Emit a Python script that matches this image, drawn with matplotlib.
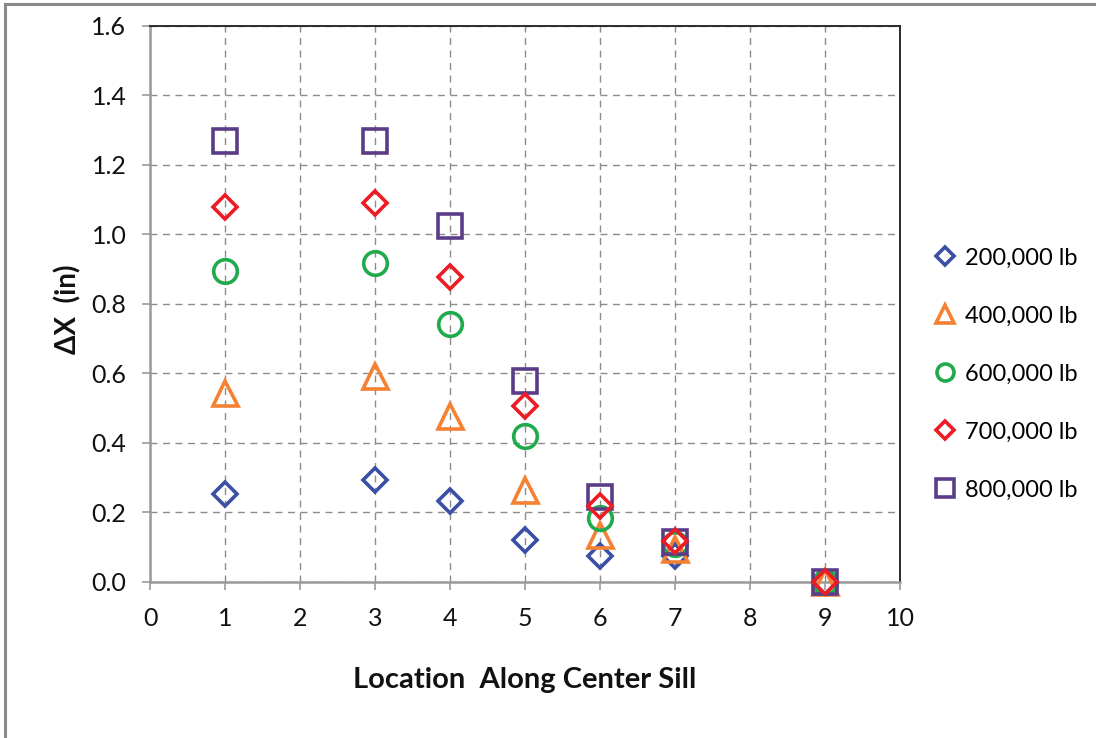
import matplotlib
matplotlib.use("Agg")
from matplotlib import pyplot as plt
from matplotlib.lines import Line2D

plt.rcParams['font.family'] = ['Lato', 'DejaVu Sans']

# Displacement along the center sill for each load case
locations = [1, 3, 4, 5, 6, 7, 9]
dx_200k = [0.253, 0.293, 0.233, 0.120, 0.075, 0.074, 0.0]
dx_400k = [0.543, 0.593, 0.478, 0.265, 0.135, 0.095, 0.0]
dx_600k = [0.895, 0.918, 0.742, 0.420, 0.184, 0.110, 0.0]
dx_700k = [1.079, 1.090, 0.879, 0.506, 0.220, 0.118, 0.0]
dx_800k = [1.268, 1.268, 1.024, 0.578, 0.246, 0.114, 0.0]

labels = ['200,000 lb', '400,000 lb', '600,000 lb', '700,000 lb', '800,000 lb']
series = [dx_200k, dx_400k, dx_600k, dx_700k, dx_800k]
markers = ['D', '^', 'o', 'D', 's']
sizes = [12.5, 18, 17, 12.5, 17.5]
colors = ['#3B4FA5', '#F58232', '#1FAA4B', '#ED1C24', '#5B3D87']
zorders = [3, 4, 5, 7, 6]

fig = plt.figure(figsize=(10.96, 7.38), dpi=100)
ax = fig.add_axes([0.1369, 0.2114, 0.6843, 0.7534])

handles = []
for y, lab, m, s, c, z in zip(series, labels, markers, sizes, colors, zorders):
    h, = ax.plot(locations, y, linestyle='none', marker=m, markersize=s,
                 markerfacecolor='none', markeredgecolor=c, markeredgewidth=2.6,
                 label=lab, zorder=z, clip_on=False)
    handles.append(h)

ax.set_xlim(0, 10)
ax.set_ylim(0, 1.6)
ax.set_xticks(range(0, 11))
ax.set_yticks([0, 0.2, 0.4, 0.6, 0.8, 1.0, 1.2, 1.4, 1.6])
ax.set_yticklabels(['%.1f' % v for v in ax.get_yticks()])

ax.grid(True, color='#8c8c8c', linestyle=(0, (5, 4)), linewidth=1.0)
ax.set_axisbelow(True)

for side in ['top', 'right']:
    ax.spines[side].set_color('#2b2b2b')
    ax.spines[side].set_linewidth(1.4)
for side in ['left', 'bottom']:
    ax.spines[side].set_color('#9a9a9a')
    ax.spines[side].set_linewidth(1.8)

ax.tick_params(axis='both', direction='out', length=6, width=1.2,
               color='#9a9a9a', labelsize=18, labelcolor='#111111')
ax.tick_params(axis='x', pad=12)
ax.tick_params(axis='y', pad=11)

ax.set_xlabel('Location  Along Center Sill', fontsize=21, fontweight='bold',
              color='#111111')
ax.set_ylabel('ΔX  (in)', fontsize=20, fontweight='bold', color='#111111')
ax.xaxis.set_label_coords(0.5, -0.153)
ax.yaxis.set_label_coords(-0.092, 0.49)

fig.legend(handles=handles, labels=labels, loc='center left',
           bbox_to_anchor=(0.8515, 0.4932), frameon=False, fontsize=17,
           markerscale=0.72, handlelength=1.0, handletextpad=0.35,
           labelspacing=1.57, borderpad=0, borderaxespad=0)

# outer chart border (top and left edges)
fig.add_artist(Line2D([0.0045, 0.0045], [0.0, 0.994], transform=fig.transFigure,
                      color='#8a8a8a', linewidth=2.2))
fig.add_artist(Line2D([0.0045, 1.0], [0.994, 0.994], transform=fig.transFigure,
                      color='#8a8a8a', linewidth=2.2))

fig.savefig('out.png', dpi=100)
